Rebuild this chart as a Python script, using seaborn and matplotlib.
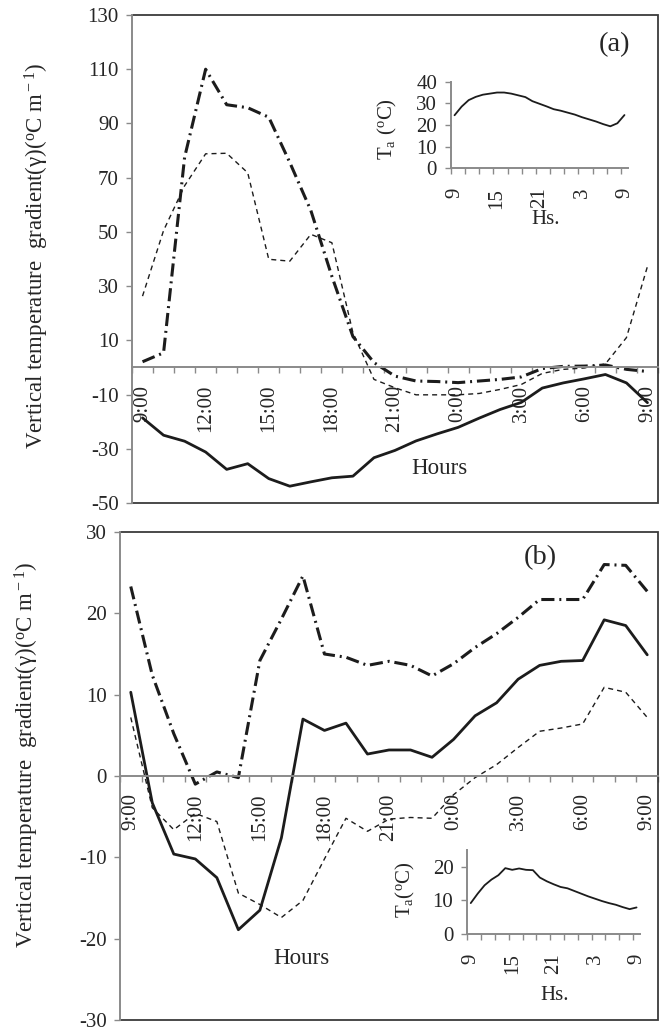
import matplotlib
matplotlib.use("Agg")
import matplotlib.pyplot as plt
import numpy as np
import pandas as pd
import seaborn as sns
from matplotlib.ticker import FixedLocator, FixedFormatter, NullFormatter

# ---- data -------------------------------------------------------------
# hourly positions from 9:00 to 9:00 of the next day (25 readings)
hour_index = np.arange(25)
hour_tick_labels = ["9:00", "12:00", "15:00", "18:00", "21:00", "0:00", "3:00", "6:00", "9:00"]
hour_tick_index = [0, 3, 6, 9, 12, 15, 18, 21, 24]

# panel (a): vertical temperature gradient, three layers
a_solid = [-18.6, -25.0, -27.2, -31.2, -37.6, -35.5, -41.0, -43.8, -42.2, -40.7, -40.1, -33.3,
           -30.6, -27.1, -24.5, -22.1, -18.7, -15.5, -12.9, -7.6, -5.7, -4.2, -2.6, -5.7, -13.0]
a_dashdot = [2.1, 5.4, 77.5, 110.0, 96.9, 95.8, 92.3, 75.6, 57.9, 33.6, 11.4, 1.8,
             -3.2, -5.0, -5.2, -5.6, -5.0, -4.4, -3.5, -0.4, 0.4, 0.5, 0.9, -0.7, -1.5]
a_dashed = [26.3, 50.5, 67.0, 78.8, 79.0, 71.8, 39.9, 39.2, 49.1, 46.0, 12.8, -4.4,
            -7.5, -10.1, -10.1, -10.1, -9.6, -8.1, -6.3, -2.2, -0.7, -0.2, 1.3, 11.0, 37.3]

# panel (b)
b_solid = [10.3, -3.3, -9.6, -10.2, -12.5, -18.9, -16.5, -7.6, 7.0, 5.6, 6.5, 2.7,
           3.2, 3.2, 2.3, 4.5, 7.4, 9.0, 11.9, 13.6, 14.1, 14.2, 19.2, 18.5, 14.9]
b_dashdot = [23.3, 12.4, 5.2, -1.0, 0.5, -0.2, 14.2, 19.3, 24.6, 15.0, 14.6, 13.6,
             14.1, 13.6, 12.3, 13.8, 15.8, 17.5, 19.5, 21.7, 21.7, 21.7, 26.0, 25.9, 22.7]
b_dashed = [7.2, -3.9, -6.6, -4.6, -5.6, -14.4, -15.8, -17.4, -15.3, -10.2, -5.2, -6.8,
            -5.3, -5.1, -5.2, -2.3, -0.2, 1.4, 3.5, 5.5, 5.9, 6.4, 10.9, 10.3, 7.2]

# air temperature (inset curves)
ta_a = [24.5, 28.5, 31.5, 33.0, 34.0, 34.5, 35.0, 35.0, 34.5, 33.7, 32.9, 31.0, 29.8,
        28.6, 27.3, 26.6, 25.7, 24.8, 23.6, 22.6, 21.6, 20.4, 19.4, 20.8, 24.6]
ta_b = [9.2, 12.0, 14.5, 16.2, 17.5, 19.6, 19.1, 19.5, 19.1, 19.0, 16.8, 15.7, 14.8,
        14.0, 13.6, 12.8, 12.0, 11.2, 10.5, 9.8, 9.2, 8.7, 8.0, 7.4, 7.9]
inset_tick_labels = ["9", "15", "21", "3", "9"]
inset_tick_index = [0, 6, 12, 18, 24]

# ---- style ------------------------------------------------------------
sns.set_style("white")
plt.rcParams["font.family"] = ["Liberation Serif", "DejaVu Serif"]
plt.rcParams["mathtext.fontset"] = "custom"
plt.rcParams["mathtext.rm"] = "Liberation Serif"
plt.rcParams["mathtext.it"] = "Liberation Serif:italic"
plt.rcParams["axes.unicode_minus"] = False

INK = "#1c1c1c"
AXIS_GREY = "#8a8a8a"
FRAME = "#3a3a3a"
TICK_FS = 15
LABEL_FS = 16.5

W, H = 669, 1033
fig = plt.figure(figsize=(W / 100, H / 100), dpi=100)


def fx(px):
    return px / W


def fy(py):
    return 1 - py / H


def add_axes_px(left, top, right, bottom):
    return fig.add_axes([fx(left), fy(bottom), (right - left) / W, (bottom - top) / H])


def main_panel(ax, solid, dashdot, dashed, ylim, yticks):
    frame = pd.DataFrame({"hour": hour_index, "solid": solid,
                          "dashdot": dashdot, "dashed": dashed})
    sns.lineplot(data=frame, x="hour", y="dashed", ax=ax, color=INK, lw=1.0,
                 linestyle=(0, (3.6, 2.9)))
    sns.lineplot(data=frame, x="hour", y="dashdot", ax=ax, color=INK, lw=2.2,
                 linestyle=(0, (4.3, 1.6, 0.65, 1.6)))
    sns.lineplot(data=frame, x="hour", y="solid", ax=ax, color=INK, lw=2.0)
    ax.set_xlim(-0.5, 24.5)
    ax.set_ylim(*ylim)
    ax.set_yticks(yticks)
    ax.set_xlabel("")
    ax.set_ylabel("")
    ax.set_facecolor("none")
    # category axis crossing at zero
    ax.spines["bottom"].set_position(("data", 0))
    ax.spines["bottom"].set_color(AXIS_GREY)
    ax.spines["bottom"].set_linewidth(1.4)
    ax.spines["left"].set_color(AXIS_GREY)
    ax.spines["left"].set_linewidth(1.4)
    ax.spines["top"].set_visible(False)
    ax.spines["right"].set_visible(False)
    ax.xaxis.set_major_locator(FixedLocator(np.arange(-0.5, 25, 1.0)))
    ax.xaxis.set_major_formatter(NullFormatter())
    ax.xaxis.set_minor_locator(FixedLocator(hour_tick_index))
    ax.xaxis.set_minor_formatter(FixedFormatter(hour_tick_labels))
    ax.tick_params(axis="x", which="major", direction="out", length=4.5, width=1.0,
                   color=AXIS_GREY, bottom=True)
    ax.tick_params(axis="x", which="minor", length=0, pad=12.5, labelsize=TICK_FS,
                   labelrotation=90, bottom=True)
    ax.tick_params(axis="y", direction="out", length=4.5, width=1.0, color=AXIS_GREY,
                   pad=5, labelsize=TICK_FS, left=True)
    ax.grid(False)
    # plot-area frame on top, right and bottom
    ax.plot([0, 1, 1, 0], [1, 1, 0, 0], transform=ax.transAxes, color=FRAME,
            lw=1.3, clip_on=False, solid_joinstyle="miter")


def inset_panel(ax, temps, ylim, yticks):
    sns.lineplot(x=hour_index, y=temps, ax=ax, color=INK, lw=1.3)
    ax.set_xlim(-0.5, 24.5)
    ax.set_ylim(*ylim)
    ax.set_yticks(yticks)
    ax.set_facecolor("none")
    for side in ("top", "right"):
        ax.spines[side].set_visible(False)
    for side in ("left", "bottom"):
        ax.spines[side].set_color(AXIS_GREY)
        ax.spines[side].set_linewidth(1.4)
    ax.xaxis.set_major_locator(FixedLocator(np.arange(-0.5, 24.5, 2.0)))
    ax.xaxis.set_major_formatter(NullFormatter())
    ax.xaxis.set_minor_locator(FixedLocator(inset_tick_index))
    ax.xaxis.set_minor_formatter(FixedFormatter(inset_tick_labels))
    ax.tick_params(axis="x", which="major", direction="out", length=4, width=1.0,
                   color=AXIS_GREY, bottom=True)
    ax.tick_params(axis="x", which="minor", length=0, pad=14, labelsize=TICK_FS,
                   labelrotation=90, bottom=True)
    ax.tick_params(axis="y", direction="out", length=4, width=1.0, color=AXIS_GREY,
                   pad=6, labelsize=TICK_FS, left=True)
    ax.grid(False)


ylabel = "Vertical temperature  gradient(\u03b3)($^{\\rm o}$C m$^{\\rm -1}$)"

# ---- panel (a) ---------------------------------------------------------
ax_a = add_axes_px(132, 15, 658, 503)
main_panel(ax_a, a_solid, a_dashdot, a_dashed, (-50, 130), np.arange(-50, 131, 20))
fig.text(fx(37), fy(256), ylabel, rotation=90, ha="center", va="center", fontsize=LABEL_FS)
fig.text(fx(439), fy(469), "Hours", ha="center", va="center", fontsize=LABEL_FS)
fig.text(fx(615), fy(45), "(a)", ha="center", va="center", fontsize=20.5)

ins_a = add_axes_px(451, 81.7, 628, 168.3)
inset_panel(ins_a, ta_a, (0, 40), [0, 10, 20, 30, 40])
fig.text(fx(387), fy(129), "T$_{\\rm a}$ ($^{\\rm o}$C)", rotation=90, ha="center",
         va="center", fontsize=TICK_FS)
fig.text(fx(546), fy(219), "Hs.", ha="center", va="center", fontsize=TICK_FS)

# ---- panel (b) ---------------------------------------------------------
ax_b = add_axes_px(120, 532, 658, 1020)
main_panel(ax_b, b_solid, b_dashdot, b_dashed, (-30, 30), np.arange(-30, 31, 10))
fig.text(fx(27), fy(755), ylabel, rotation=90, ha="center", va="center", fontsize=LABEL_FS)
fig.text(fx(301), fy(959), "Hours", ha="center", va="center", fontsize=LABEL_FS)
fig.text(fx(540), fy(558), "(b)", ha="center", va="center", fontsize=20.5)

ins_b = add_axes_px(467.3, 850, 640, 934)
inset_panel(ins_b, ta_b, (0, 25), [0, 10, 20])
fig.text(fx(405), fy(890), "T$_{\\rm a}$($^{\\rm o}$C)", rotation=90, ha="center",
         va="center", fontsize=TICK_FS)
fig.text(fx(555), fy(995), "Hs.", ha="center", va="center", fontsize=TICK_FS)

fig.savefig("out.png", dpi=100, facecolor="white")
